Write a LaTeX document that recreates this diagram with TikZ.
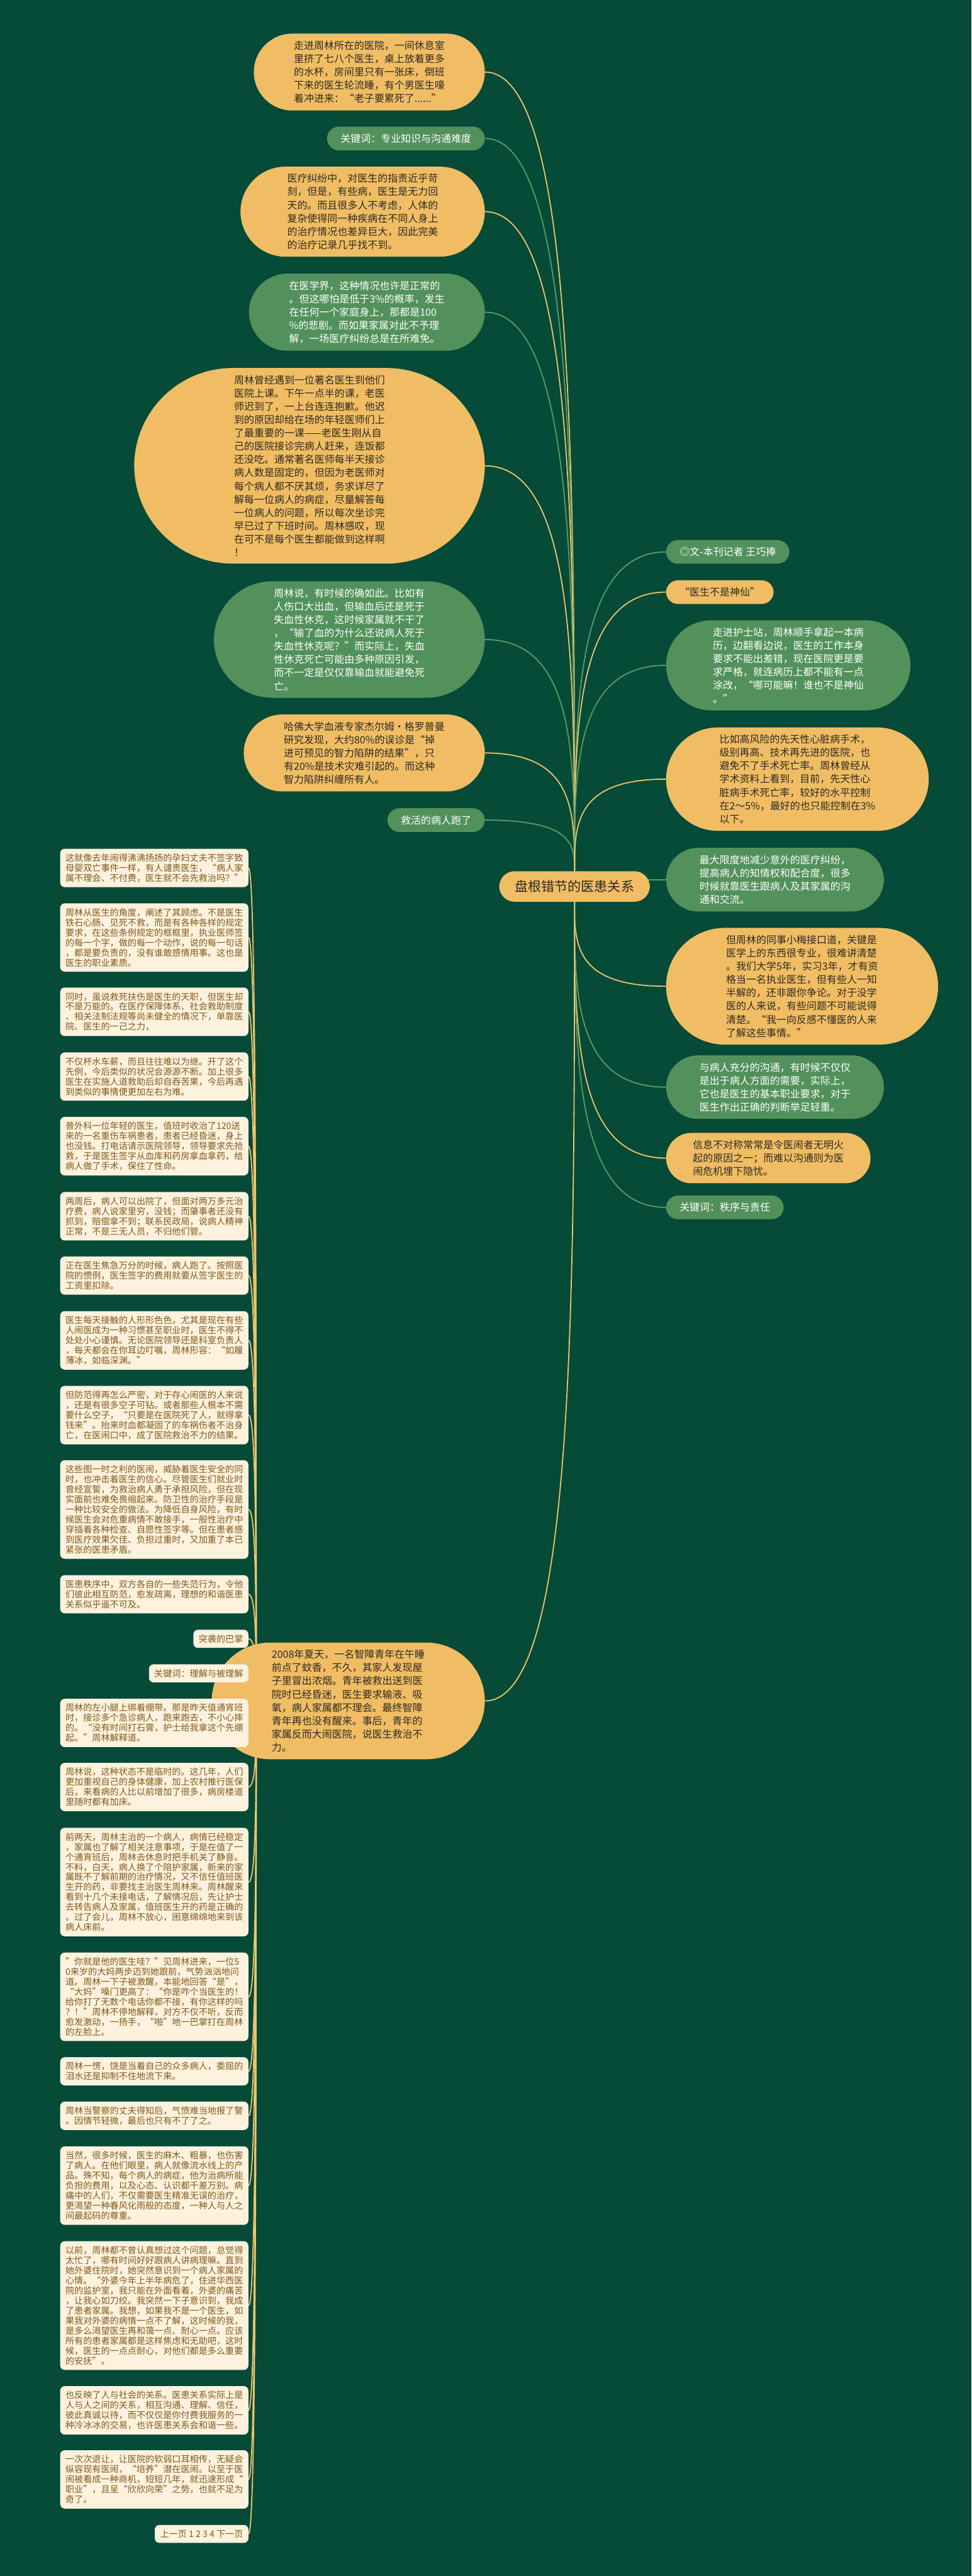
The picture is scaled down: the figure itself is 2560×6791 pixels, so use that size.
\documentclass[tikz,border=0pt]{standalone}
\usepackage{fontspec}
\setmainfont{Noto Sans CJK SC}
\usetikzlibrary{calc}
\definecolor{bgc}{HTML}{064A38}
\definecolor{cor}{HTML}{F0BD64}
\definecolor{cgr}{HTML}{52915B}
\definecolor{lor}{HTML}{EEC36C}
\definecolor{lgr}{HTML}{5A9C63}
\definecolor{cream}{HTML}{FCF2DE}
\definecolor{brn}{HTML}{83581A}
\definecolor{tdk}{HTML}{2E2A22}
\pgfdeclarelayer{bg}
\pgfsetlayers{bg,main}
\newcommand\pillfont{\fontsize{13.25pt}{17.5pt}\selectfont}
\newcommand\leftfont{\fontsize{11.7pt}{13.25pt}\selectfont}
\newcommand\mainfontbig{\fontsize{17.5pt}{21pt}\selectfont}
\newcommand\mc[3]{\draw[#1] (#2) .. controls ($(#2)!0.5!(#2|-#3)$) and (#2|-#3) .. (#3);}
\begin{document}
\begin{tikzpicture}[x=0.5pt,y=-0.5pt,
  pill/.style={rectangle, rounded corners=#1, inner xsep=#1+2pt, inner ysep=9.5pt, align=left, font=\pillfont},
  po/.style={pill=#1, fill=cor, text=tdk},
  pg/.style={pill=#1, fill=cgr, text=white},
  lbox/.style={rectangle, rounded corners=6pt, fill=cream, text=brn, align=left, inner xsep=7pt, inner ysep=6.5pt, font=\leftfont, anchor=north east},
  lo/.style={draw=lor, line width=1.5pt},
  lg/.style={draw=lgr, line width=1.5pt}]
\begin{pgfonlayer}{bg}
\fill[bgc] (0,0) rectangle (2560,6791);
\end{pgfonlayer}
\useasboundingbox (0,0) rectangle (2560,6791);

% center
\node[rectangle, rounded corners=20.5pt, fill=cor, text=tdk, inner xsep=20.5pt, inner ysep=12pt, font=\mainfontbig] (C) at (1514,2337) {盘根错节的医患关系};

% top-left column
\node[po=50.8pt, anchor=east] (A) at (1278,190) {走进周林所在的医院，一间休息室\\里挤了七八个医生，桌上放着更多\\的水杯，房间里只有一张床，倒班\\下来的医生轮流睡，有个男医生嚎\\着冲进来：“老子要累死了......”};
\node[pg=15.8pt, anchor=east] (K1) at (1278,365) {关键词：专业知识与沟通难度};
\node[po=59.6pt, anchor=east] (B) at (1278,558) {医疗纠纷中，对医生的指责近乎苛\\刻，但是，有些病，医生是无力回\\天的。而且很多人不考虑，人体的\\复杂使得同一种疾病在不同人身上\\的治疗情况也差异巨大，因此完美\\的治疗记录几乎找不到。};
\node[pg=50.8pt, anchor=east] (Cg) at (1278,823) {在医学界，这种情况也许是正常的\\。但这哪怕是低于3\%的概率，发生\\在任何一个家庭身上，那都是100\\\%的悲剧。而如果家属对此不予理\\解，一场医疗纠纷总是在所难免。};
\node[po=129.6pt, anchor=east] (D) at (1278,1228) {周林曾经遇到一位著名医生到他们\\医院上课。下午一点半的课，老医\\师迟到了，一上台连连抱歉。他迟\\到的原因却给在场的年轻医师们上\\了最重要的一课——老医生刚从自\\己的医院接诊完病人赶来，连饭都\\还没吃。通常著名医师每半天接诊\\病人数是固定的，但因为老医师对\\每个病人都不厌其烦，务求详尽了\\解每一位病人的病症，尽量解答每\\一位病人的问题，所以每次坐诊完\\早已过了下班时间。周林感叹，现\\在可不是每个医生都能做到这样啊\\！};
\node[pg=77.1pt, anchor=east] (E) at (1278,1686) {周林说，有时候的确如此。比如有\\人伤口大出血，但输血后还是死于\\失血性休克，这时候家属就不干了\\，“输了血的为什么还说病人死于\\失血性休克呢？”而实际上，失血\\性休克死亡可能由多种原因引发，\\而不一定是仅仅靠输血就能避免死\\亡。};
\node[po=50.8pt, anchor=east] (F) at (1278,1985) {哈佛大学血液专家杰尔姆·格罗普曼\\研究发现，大约80\%的误诊是“掉\\进可预见的智力陷阱的结果”，只\\有20\%是技术灾难引起的。而这种\\智力陷阱纠缠所有人。};
\node[pg=15.8pt, anchor=east] (G) at (1278,2162) {救活的病人跑了};

% right column
\node[pg=15.8pt, anchor=west] (R1) at (1755,1455) {◎文-本刊记者 王巧捧};
\node[po=15.8pt, anchor=west] (R2) at (1755,1561) {“医生不是神仙”};
\node[pg=59.6pt, anchor=west] (R3) at (1755,1754) {走进护士站，周林顺手拿起一本病\\历，边翻看边说，医生的工作本身\\要求不能出差错，现在医院更是要\\求严格，就连病历上都不能有一点\\涂改，“哪可能嘛！谁也不是神仙\\。”};
\node[po=68.3pt, anchor=west] (R4) at (1755,2054) {比如高风险的先天性心脏病手术，\\级别再高、技术再先进的医院，也\\避免不了手术死亡率。周林曾经从\\学术资料上看到，目前，先天性心\\脏病手术死亡率，较好的水平控制\\在2～5\%，最好的也只能控制在3\%\\以下。};
\node[pg=42.1pt, anchor=west] (R5) at (1755,2319) {最大限度地减少意外的医疗纠纷，\\提高病人的知情权和配合度，很多\\时候就靠医生跟病人及其家属的沟\\通和交流。};
\node[po=77.1pt, anchor=west] (R6) at (1755,2600) {但周林的同事小梅接口道，关键是\\医学上的东西很专业，很难讲清楚\\。我们大学5年，实习3年，才有资\\格当一名执业医生，但有些人一知\\半解的，还非跟你争论。对于没学\\医的人来说，有些问题不可能说得\\清楚。“我一向反感不懂医的人来\\了解这些事情。”};
\node[pg=42.1pt, anchor=west] (R7) at (1755,2866) {与病人充分的沟通，有时候不仅仅\\是出于病人方面的需要，实际上，\\它也是医生的基本职业要求，对于\\医生作出正确的判断举足轻重。};
\node[po=33.3pt, anchor=west] (R8) at (1755,3053) {信息不对称常常是令医闹者无明火\\起的原因之一；而难以沟通则为医\\闹危机埋下隐忧。};
\node[pg=15.8pt, anchor=west] (R9) at (1755,3183) {关键词：秩序与责任};

% bottom-left pill
\node[po=77.1pt, anchor=east] (H) at (1278,4484) {2008年夏天，一名智障青年在午睡\\前点了蚊香，不久，其家人发现屋\\子里冒出浓烟。青年被救出送到医\\院时已经昏迷，医生要求输液、吸\\氧，病人家属都不理会。最终智障\\青年再也没有醒来。事后，青年的\\家属反而大闹医院，说医生救治不\\力。};

% left boxes
\node[lbox] (L1) at (655,2237) {这就像去年闹得沸沸扬扬的孕妇丈夫不签字致\\母婴双亡事件一样，有人谴责医生，“病人家\\属不理会、不付费，医生就不会先救治吗？”};
\node[lbox] (L2) at (655,2381) {周林从医生的角度，阐述了其顾虑。不是医生\\铁石心肠、见死不救，而是有各种各样的规定\\要求，在这些条例规定的框框里，执业医师签\\的每一个字，做的每一个动作，说的每一句话\\，都是要负责的，没有谁敢感情用事。这也是\\医生的职业素质。};
\node[lbox] (L3) at (655,2603) {同时，虽说救死扶伤是医生的天职，但医生却\\不是万能的。在医疗保障体系、社会救助制度\\、相关法制法规等尚未健全的情况下，单靠医\\院、医生的一己之力，};
\node[lbox] (L4) at (655,2774) {不仅杯水车薪，而且往往难以为继。开了这个\\先例，今后类似的状况会源源不断。加上很多\\医生在实施人道救助后却自吞苦果，今后再遇\\到类似的事情便更加左右为难。};
\node[lbox] (L5) at (655,2944) {普外科一位年轻的医生，值班时收治了120送\\来的一名重伤车祸患者，患者已经昏迷，身上\\也没钱。打电话请示医院领导，领导要求先抢\\救，于是医生签字从血库和药房拿血拿药，给\\病人做了手术，保住了性命。};
\node[lbox] (L6) at (655,3142) {两周后，病人可以出院了，但面对两万多元治\\疗费，病人说家里穷，没钱；而肇事者还没有\\抓到，赔偿拿不到；联系民政局，说病人精神\\正常，不是三无人员，不归他们管。};
\node[lbox] (L7) at (655,3312) {正在医生焦急万分的时候，病人跑了。按照医\\院的惯例，医生签字的费用就要从签字医生的\\工资里扣除。};
\node[lbox] (L8) at (655,3456) {医生每天接触的人形形色色，尤其是现在有些\\人闹医成为一种习惯甚至职业时，医生不得不\\处处小心谨慎。无论医院领导还是科室负责人\\，每天都会在你耳边叮嘱，周林形容：“如履\\薄冰，如临深渊。”};
\node[lbox] (L9) at (655,3653) {但防范得再怎么严密，对于存心闹医的人来说\\，还是有很多空子可钻。或者那些人根本不需\\要什么空子，“只要是在医院死了人，就得拿\\钱来”。抬来时血都凝固了的车祸伤者不治身\\亡，在医闹口中，成了医院救治不力的结果。};
\node[lbox] (L10) at (655,3849) {这些图一时之利的医闹，威胁着医生安全的同\\时，也冲击着医生的信心。尽管医生们就业时\\曾经宣誓，为救治病人勇于承担风险，但在现\\实面前也难免畏缩起来。防卫性的治疗手段是\\一种比较安全的做法。为降低自身风险，有时\\候医生会对危重病情不敢接手，一般性治疗中\\穿插着各种检查、自愿性签字等。但在患者感\\到医疗效果欠佳、负担过重时，又加重了本已\\紧张的医患矛盾。};
\node[lbox] (L11) at (655,4152) {医患秩序中，双方各自的一些失范行为，令他\\们彼此相互防范，愈发疏离，理想的和谐医患\\关系似乎遥不可及。};
\node[lbox] (L12) at (655,4296) {突袭的巴掌};
\node[lbox] (L13) at (655,4387) {关键词：理解与被理解};
\node[lbox] (L14) at (655,4478) {周林的左小腿上绑着绷带。那是昨天值通宵班\\时，接诊多个急诊病人，跑来跑去，不小心摔\\的。“没有时间打石膏，护士给我拿这个先绷\\起。”周林解释道。};
\node[lbox] (L15) at (655,4647) {周林说，这种状态不是临时的。这几年，人们\\更加重视自己的身体健康，加上农村推行医保\\后，来看病的人比以前增加了很多，病房楼道\\里随时都有加床。};
\node[lbox] (L16) at (655,4818) {前两天，周林主治的一个病人，病情已经稳定\\，家属也了解了相关注意事项，于是在值了一\\个通宵班后，周林去休息时把手机关了静音。\\不料，白天，病人换了个陪护家属，新来的家\\属既不了解前期的治疗情况，又不信任值班医\\生开的药，非要找主治医生周林来。周林醒来\\看到十几个未接电话，了解情况后，先让护士\\去转告病人及家属，值班医生开的药是正确的\\。过了会儿，周林不放心，困意绵绵地来到该\\病人床前。};
\node[lbox] (L17) at (655,5147) {”你就是他的医生哇？”见周林进来，一位5\\0来岁的大妈两步迈到她跟前，气势汹汹地问\\道。周林一下子被激醒，本能地回答“是”，\\“大妈”嗓门更高了：“你是咋个当医生的！\\给你打了无数个电话你都不接，有你这样的吗\\？！”周林不停地解释，对方不仅不听，反而\\愈发激动，一扬手，“啪”地一巴掌打在周林\\的左脸上。};
\node[lbox] (L18) at (655,5423) {周林一愣，饶是当着自己的众多病人，委屈的\\泪水还是抑制不住地流下来。};
\node[lbox] (L19) at (655,5540) {周林当警察的丈夫得知后，气愤难当地报了警\\。因情节轻微，最后也只有不了了之。};
\node[lbox] (L20) at (655,5658) {当然，很多时候，医生的麻木、粗暴，也伤害\\了病人。在他们眼里，病人就像流水线上的产\\品。殊不知，每个病人的病症，他为治病所能\\负担的费用，以及心态、认识都千差万别。病\\痛中的人们，不仅需要医生精准无误的治疗，\\更渴望一种春风化雨般的态度，一种人与人之\\间最起码的尊重。};
\node[lbox] (L21) at (655,5908) {以前，周林都不曾认真想过这个问题，总觉得\\太忙了，哪有时间好好跟病人讲病理嘛。直到\\她外婆住院时，她突然意识到一个病人家属的\\心情。“外婆今年上半年病危了，住进华西医\\院的监护室，我只能在外面看着，外婆的痛苦\\，让我心如刀绞。我突然一下子意识到，我成\\了患者家属。我想，如果我不是一个医生，如\\果我对外婆的病情一点不了解，这时候的我，\\是多么渴望医生再和蔼一点、耐心一点。应该\\所有的患者家属都是这样焦虑和无助吧，这时\\候，医生的一点点耐心，对他们都是多么重要\\的安抚”。};
\node[lbox] (L22) at (655,6290) {也反映了人与社会的关系。医患关系实际上是\\人与人之间的关系，相互沟通、理解、信任，\\彼此真诚以待，而不仅仅是你付费我服务的一\\种冷冰冰的交易，也许医患关系会和谐一些。};
\node[lbox] (L23) at (655,6459) {一次次退让，让医院的软弱口耳相传，无疑会\\纵容现有医闹，“培养”潜在医闹。以至于医\\闹被看成一种商机，短短几年，就迅速形成“\\职业”，且呈“欣欣向荣”之势，也就不足为\\奇了。};
\node[lbox] (L24) at (655,6656) {上一页 1 2 3 4 下一页};

\coordinate (hT) at (675,4484);

\begin{pgfonlayer}{bg}
% top-left
\mc{lo}{C.north}{A.east}
\mc{lg}{C.north}{K1.east}
\mc{lo}{C.north}{B.east}
\mc{lg}{C.north}{Cg.east}
\mc{lo}{C.north}{D.east}
\mc{lg}{C.north}{E.east}
\mc{lo}{C.north}{F.east}
\mc{lg}{C.north}{G.east}
% right
\mc{lg}{C.north}{R1.west}
\mc{lo}{C.north}{R2.west}
\mc{lg}{C.north}{R3.west}
\mc{lo}{C.north}{R4.west}
\draw[lg] (C.center |- R5.west) -- (R5.west);
\mc{lo}{C.south}{R6.west}
\mc{lg}{C.south}{R7.west}
\mc{lo}{C.south}{R8.west}
\mc{lg}{C.south}{R9.west}
\mc{lo}{C.south}{H.east}
% left column
\draw[lo] (H.west) -- (hT);
\foreach \n in {L1,L2,L3,L4,L5,L6,L7,L8,L9,L10,L11,L12,L13,L14,L15,L16,L17,L18,L19,L20,L21,L22,L23,L24}{
  \mc{lo}{hT}{\n.east}
}
\end{pgfonlayer}
\end{tikzpicture}
\end{document}
